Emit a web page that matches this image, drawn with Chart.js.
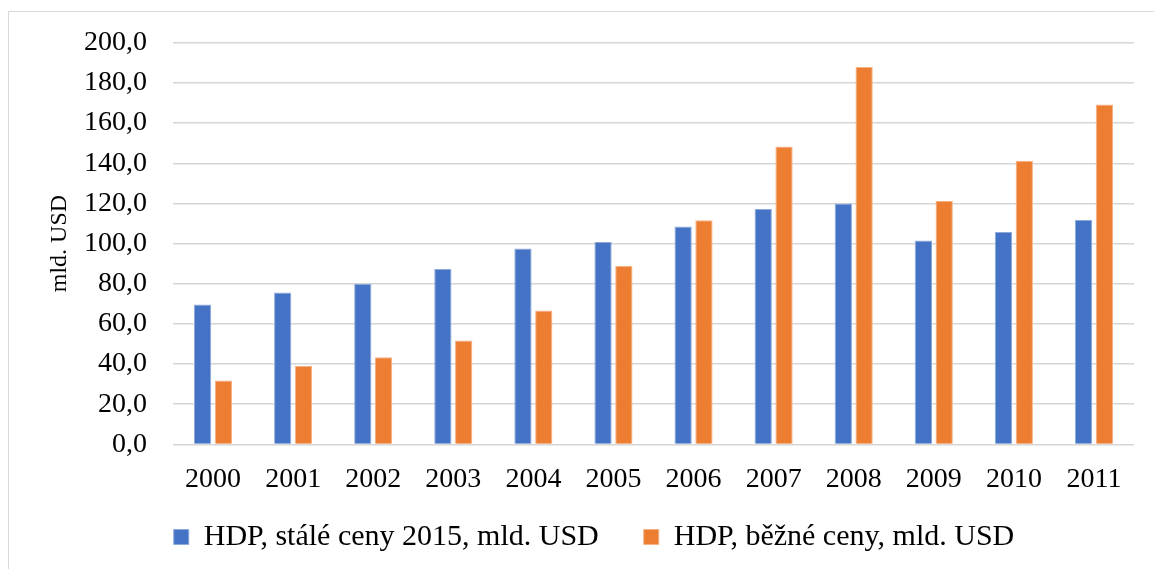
<!DOCTYPE html>
<html>
<head>
<meta charset="utf-8">
<script src="https://cdn.jsdelivr.net/npm/chart.js@4/dist/chart.umd.min.js"></script>
<style>
  html, body { margin: 0; padding: 0; background: #fff; }
  #wrap { position: relative; width: 1154px; height: 569px; overflow: hidden; }
  #frame { position: absolute; left: 8px; top: 11px; width: 1200px; height: 600px; border: 1px solid #d9d9d9; }
  #wrap canvas { position: absolute; left: 0; top: 0; }
</style>
</head>
<body>
<div id="wrap">
  <div id="frame"></div>
  <canvas id="gdp"></canvas>
</div>
<script>
const years = ["2000", "2001", "2002", "2003", "2004", "2005", "2006", "2007", "2008", "2009", "2010", "2011"];
const gdpConstant = [69.7, 75.6, 80.0, 87.4, 97.5, 100.8, 108.5, 117.2, 120.0, 101.6, 105.8, 111.7];
const gdpCurrent = [31.8, 39.0, 43.4, 51.7, 66.7, 88.9, 111.6, 148.4, 188.0, 121.2, 141.3, 169.3];
const seriesNames = ["HDP, stálé ceny 2015, mld. USD", "HDP, běžné ceny, mld. USD"];
const yTitle = "mld. USD";

const serif = "'Liberation Serif', 'Times New Roman', serif";

// nudge the legend closer to the axis labels, like the original
const legendShift = {
  id: "legendShift",
  afterLayout(chart) {
    const lg = chart.legend;
    lg.top -= 29; lg.bottom -= 29;
    lg.left += 27; lg.right += 27;
  }
};

new Chart(document.getElementById("gdp"), {
  type: "bar",
  data: {
    labels: years,
    datasets: [
      {
        label: seriesNames[0],
        data: gdpConstant,
        backgroundColor: "#4472c4",
        borderColor: "#8eaadb",
        borderWidth: 1,
        categoryPercentage: 0.52,
        barPercentage: 0.83
      },
      {
        label: seriesNames[1],
        data: gdpCurrent,
        backgroundColor: "#ed7d31",
        borderColor: "#f4b183",
        borderWidth: 1,
        categoryPercentage: 0.52,
        barPercentage: 0.83
      }
    ]
  },
  plugins: [legendShift],
  options: {
    responsive: true,
    maintainAspectRatio: false,
    animation: false,
    layout: { padding: { top: 42, right: 20, left: 0, bottom: -22 } },
    plugins: {
      tooltip: { enabled: false },
      legend: {
        position: "bottom",
        labels: {
          color: "#000",
          font: { family: serif, size: 30 },
          boxWidth: 15,
          boxHeight: 15,
          padding: 45
        }
      }
    },
    scales: {
      x: {
        grid: { display: false },
        border: { display: false },
        ticks: { color: "#000", font: { family: serif, size: 28 }, padding: 10, maxRotation: 0 }
      },
      y: {
        min: 0,
        max: 200,
        afterFit: s => { s.width = 173; },
        grid: { color: "#d6d6d6", lineWidth: 1.5, drawTicks: false },
        border: { display: false },
        ticks: {
          stepSize: 20,
          autoSkip: false,
          padding: 26,
          color: "#000",
          font: { family: serif, size: 28 },
          callback: v => v.toFixed(1).replace(".", ",")
        },
        title: {
          display: true,
          text: yTitle,
          color: "#000",
          font: { family: serif, size: 24 },
          padding: { top: 45, bottom: 0 }
        }
      }
    }
  }
});
</script>
</body>
</html>
